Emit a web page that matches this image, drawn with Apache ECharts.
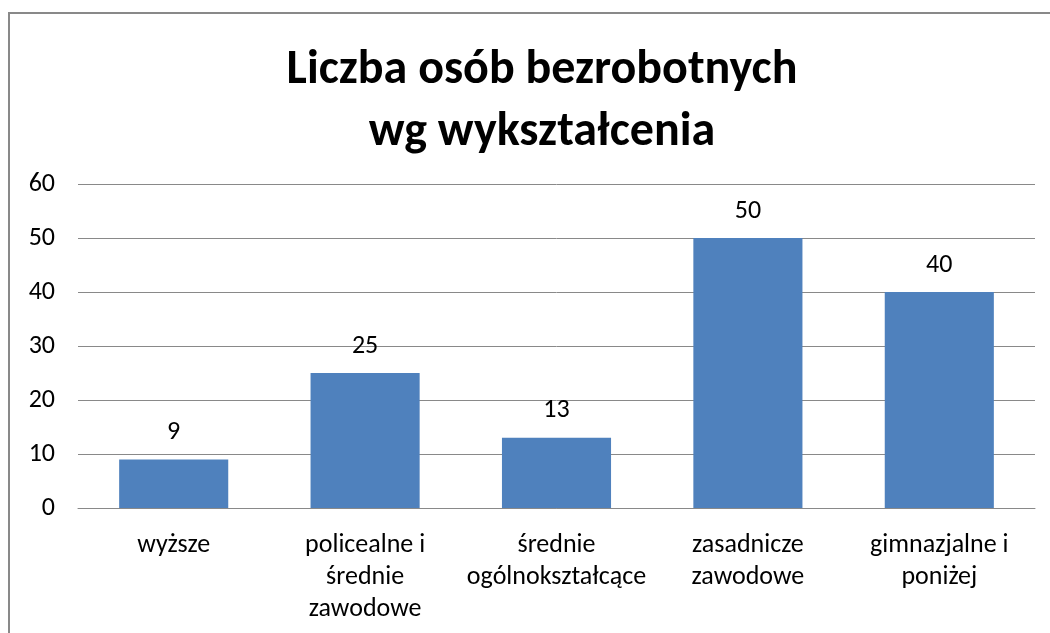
<!DOCTYPE html>
<html><head><meta charset="utf-8">
<script src="https://cdn.jsdelivr.net/npm/echarts@6/dist/echarts.min.js"></script>
<style>
html,body{margin:0;padding:0;background:#fff;overflow:hidden;}
#frame{position:absolute;left:8px;top:12px;width:1100px;height:700px;border:2px solid #898989;box-sizing:border-box;}
#main{position:absolute;left:0;top:0;width:1050px;height:633px;}
</style></head>
<body>
<div id="frame"></div>
<div id="main"></div>
<script>
const titleText = 'Liczba osób bezrobotnych\nwg wykształcenia';
const categories = ['wyższe','policealne i średnie zawodowe','średnie ogólnokształcące','zasadnicze zawodowe','gimnazjalne i poniżej'];
const values = [9, 25, 13, 50, 40];
const yMin = 0, yMax = 60, yStep = 10;

const FONT = 'Carlito, Lato, Open Sans, sans-serif';
const LABEL_SIZE = 26;
const ctx = document.createElement('canvas').getContext('2d');
ctx.font = LABEL_SIZE + 'px ' + FONT;
function wrap(text, maxW) {
  const words = text.split(' ');
  const lines = [];
  let cur = '';
  for (const w of words) {
    const test = cur ? cur + ' ' + w : w;
    if (cur && ctx.measureText(test).width > maxW) { lines.push(cur); cur = w; }
    else cur = test;
  }
  if (cur) lines.push(cur);
  return lines.join('\n');
}

const chart = echarts.init(document.getElementById('main'), null, {renderer:'canvas'});
chart.setOption({
  backgroundColor: 'transparent',
  animation: false,
  title: {
    text: titleText, left: 537, top: 35, textAlign: 'center',
    textStyle: {fontFamily: FONT, fontWeight: 'bold', fontSize: 48, lineHeight: 62, color: '#000'}
  },
  grid: {left: 78, right: 15, top: 184, bottom: 125, containLabel: false},
  xAxis: {
    type: 'category', data: categories,
    axisLine: {show: true, lineStyle: {color: '#898989', width: 1}},
    axisTick: {show: false},
    axisLabel: {fontFamily: FONT, fontSize: LABEL_SIZE, color: '#000', margin: 21, lineHeight: 32, interval: 0,
      formatter: function (v) { return wrap(v, 175); }}
  },
  yAxis: {
    type: 'value', min: yMin, max: yMax, interval: yStep,
    axisLine: {show: false}, axisTick: {show: false},
    axisLabel: {fontFamily: FONT, fontSize: LABEL_SIZE, color: '#000', margin: 23},
    splitLine: {lineStyle: {color: '#898989', width: 1}}
  },
  series: [{
    type: 'bar', data: values, barWidth: '57%',
    itemStyle: {color: '#4F81BD'},
    label: {show: true, position: 'top', distance: 14, fontFamily: FONT, fontSize: LABEL_SIZE, color: '#000'}
  }]
});
</script>
</body></html>
